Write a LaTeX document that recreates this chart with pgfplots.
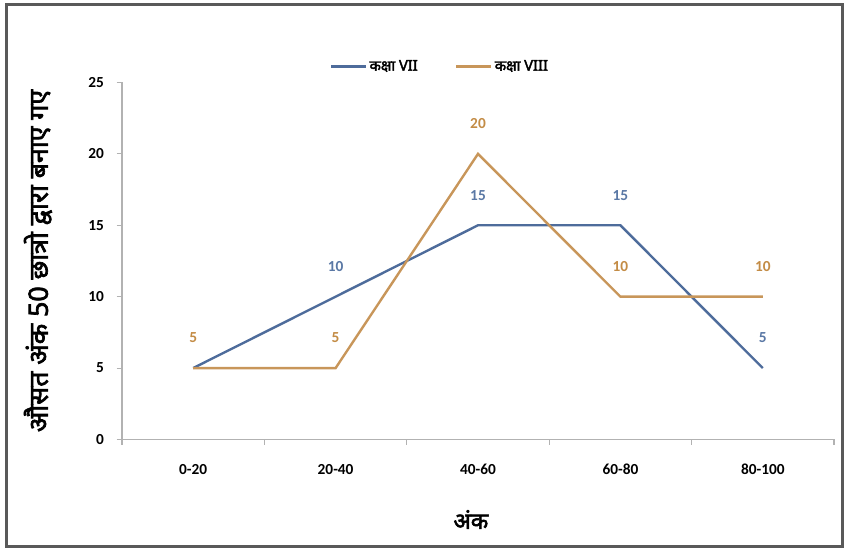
\documentclass[border=0pt]{standalone}
\usepackage{pgfplots}
\pgfplotsset{compat=1.18}
\usepackage{fontspec}
\setmainfont{Carlito}
\newfontfamily\dev[Script=Devanagari, AutoFakeBold=2.5]{Noto Sans}
\definecolor{cblue}{RGB}{78,108,155}
\definecolor{corange}{RGB}{200,150,90}
\definecolor{lblue}{RGB}{90,120,165}
\definecolor{lorange}{RGB}{195,140,70}
\begin{document}
\begin{tikzpicture}
\begin{axis}[
  name=ax,
  scale only axis,
  width=534pt, height=267.75pt,
  xmin=-0.5, xmax=4.5, ymin=0, ymax=25,
  axis x line=bottom, axis y line=left,
  axis line style={gray!60, line width=0.8pt, -},
  xtick={0,1,2,3,4},
  xticklabels={0-20,20-40,40-60,60-80,80-100},
  major x tick style={draw=none},
  minor xtick={-0.5,0.5,1.5,2.5,3.5,4.5},
  minor x tick style={gray!60, line width=0.8pt},
  minor tick length=4pt,
  ytick={0,5,10,15,20,25},
  y tick style={gray!60, line width=0.8pt},
  major tick length=4pt,
  tick align=outside,
  xticklabel style={font=\bfseries\fontsize{11.5}{13}\selectfont, yshift=-11pt},
  yticklabel style={font=\bfseries\fontsize{11.5}{13}\selectfont, xshift=-6pt},
  /pgf/number format/assume math mode=true,
  ylabel={\dev\bfseries औसत अंक 50 छात्रो द्वारा बनाए गए},
  ylabel style={at={(axis description cs:0,0.5)}, yshift=63pt, anchor=center, font=\fontsize{20}{22}\selectfont},
  xlabel={\dev\bfseries अंक},
  xlabel style={at={(axis description cs:0.49,0)}, yshift=-60pt, anchor=center, font=\fontsize{17}{19}\selectfont},
  legend columns=2,
  legend style={draw=none, fill=none, at={(axis description cs:0.447,1.045)}, anchor=center,
    font=\bfseries\fontsize{11}{12}\selectfont, /tikz/every even column/.append style={column sep=26pt}},
  legend image code/.code={\draw[#1, line width=1.8pt] (0pt,0pt) -- (26pt,0pt);},
  clip=false,
]
\addplot[cblue, line width=1.8pt] coordinates {(0,5) (1,10) (2,15) (3,15) (4,5)};
\addlegendentry{\dev कक्षा VII}
\addplot[corange, line width=1.8pt] coordinates {(0,5) (1,5) (2,20) (3,10) (4,10)};
\addlegendentry{\dev कक्षा VIII}
\addplot[draw=none, forget plot, nodes near coords, point meta=explicit symbolic,
  every node near coord/.style={anchor=center, yshift=22.5pt, text=lblue, font=\bfseries\fontsize{11.5}{13}\selectfont}]
  coordinates {(1,10)[10] (2,15)[15] (3,15)[15] (4,5)[5]};
\addplot[draw=none, forget plot, nodes near coords, point meta=explicit symbolic,
  every node near coord/.style={anchor=center, yshift=22.5pt, text=lorange, font=\bfseries\fontsize{11.5}{13}\selectfont}]
  coordinates {(0,5)[5] (1,5)[5] (2,20)[20] (3,10)[10] (4,10)[10]};
\end{axis}
\draw[black!65, line width=2.25pt] ([xshift=-86.25pt, yshift=-80.6pt]ax.south west) rectangle ([xshift=540pt, yshift=326.6pt]ax.south west);
\useasboundingbox ([xshift=-91.5pt, yshift=-83.6pt]ax.south west) rectangle ([xshift=544.5pt, yshift=329.6pt]ax.south west);
\end{tikzpicture}
\end{document}
